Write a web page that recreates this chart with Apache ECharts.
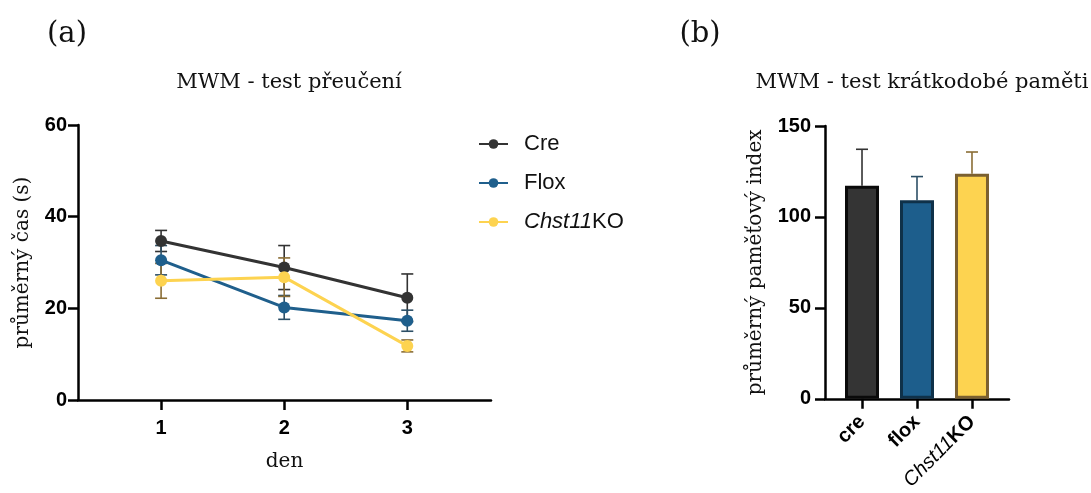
<!DOCTYPE html>
<html>
    <head>
        <meta charset="utf-8">
        <script src='https://cdn.jsdelivr.net/npm/echarts@6/dist/echarts.min.js'></script>
    </head>
    <body>
        <style>
            html, body{
                width: 100%;
                height: 100%;
                margin: 0;
                background: #fff;
            }
            #main{ width: 1091px; height: 493px; }
        </style>
        <div id='main'></div>
        <script>
            // (a) MWM - test preuceni
            var days = [1, 2, 3];
            var groupNames = ['Cre', 'Flox', 'Chst11KO'];
            var creMean = [34.7, 28.9, 22.3];
            var creErr = [2.3, 4.8, 5.2];
            var floxMean = [30.5, 20.2, 17.3];
            var floxErr = [3.2, 2.6, 2.3];
            var koMean = [26.0, 26.8, 11.8];
            var koErr = [3.8, 4.2, 1.3];

            // (b) MWM - test kratkodobe pameti
            var barNames = ['cre', 'flox', 'Chst11KO'];
            var barMean = [117.2, 109.2, 123.7];
            var barErr = [20.0, 13.0, 12.0];

            var lineColors = ['#333333', '#1f5f8c', '#fdd350'];
            var errColors = ['#333333', '#2c4f66', '#8a6d35'];
            var barFill = ['#343434', '#1d5e8c', '#fdd350'];
            var barBorder = ['#0a0a0a', '#0f3149', '#7b6030'];

            var SERIF = "'DejaVu Serif', serif";
            var SANS = "'Liberation Sans', Arial, sans-serif";

            function errRender(colorFn, upOnly){
                return function(params, api){
                    var x = api.value(0), m = api.value(1), e = api.value(2);
                    var top = api.coord([x, m + e]);
                    var bot = api.coord([x, upOnly ? m : m - e]);
                    var c = colorFn(params.dataIndex);
                    var st = { stroke: c, lineWidth: 1.6 };
                    var kids = [
                        { type: 'line', shape: { x1: top[0], y1: top[1], x2: bot[0], y2: bot[1] }, style: st },
                        { type: 'line', shape: { x1: top[0] - 6, y1: top[1], x2: top[0] + 6, y2: top[1] }, style: st }
                    ];
                    if (!upOnly) {
                        kids.push({ type: 'line', shape: { x1: bot[0] - 6, y1: bot[1], x2: bot[0] + 6, y2: bot[1] }, style: st });
                    }
                    return { type: 'group', children: kids };
                };
            }

            function zip3(a, b, c){
                var out = [];
                for (var i = 0; i < a.length; i++) out.push([a[i], b[i], c[i]]);
                return out;
            }

            var means = [creMean, floxMean, koMean];
            var errs = [creErr, floxErr, koErr];

            var series = [];
            for (var g = 0; g < 3; g++) {
                (function(g){
                    series.push({
                        type: 'custom',
                        xAxisIndex: 0, yAxisIndex: 0,
                        renderItem: errRender(function(){ return errColors[g]; }, false),
                        data: zip3(days, means[g], errs[g]),
                        z: 2, silent: true
                    });
                })(g);
            }
            for (var g = 0; g < 3; g++) {
                series.push({
                    name: groupNames[g],
                    type: 'line',
                    xAxisIndex: 0, yAxisIndex: 0,
                    data: days.map(function(d, i){ return [d, means[g][i]]; }),
                    symbol: 'circle',
                    symbolSize: 12,
                    lineStyle: { color: lineColors[g], width: 3 },
                    itemStyle: { color: lineColors[g] },
                    z: 3
                });
            }
            var barX = barNames.map(function(n, i){ return i + 1; });
            series.push({
                type: 'custom',
                xAxisIndex: 1, yAxisIndex: 1,
                renderItem: errRender(function(i){ return errColors[i]; }, true),
                data: zip3(barX, barMean, barErr),
                z: 1, silent: true
            });
            series.push({
                type: 'bar',
                xAxisIndex: 1, yAxisIndex: 1,
                barWidth: 34,
                data: barX.map(function(x, i){
                    return {
                        value: [x, barMean[i]],
                        itemStyle: { color: barFill[i], borderColor: barBorder[i], borderWidth: 3 }
                    };
                }),
                z: 2
            });

            var axisLineStyle = { color: '#000', width: 2.5 };
            var tickStyle = { color: '#000', width: 2.5 };
            var tickLabel = { color: '#000', fontFamily: SANS, fontWeight: 'bold', fontSize: 20 };
            var nameStyle = { fontFamily: SERIF, fontSize: 20, color: '#111' };

            var option = {
                animation: false,
                title: [
                    { text: '(a)', left: 62, top: 15, textAlign: 'center',
                      textStyle: { fontFamily: SERIF, fontWeight: 'normal', fontSize: 29, color: '#111' } },
                    { text: '(b)', left: 695, top: 15, textAlign: 'center',
                      textStyle: { fontFamily: SERIF, fontWeight: 'normal', fontSize: 29, color: '#111' } },
                    { text: 'MWM - test přeučení', left: 284, top: 67, textAlign: 'center',
                      textStyle: { fontFamily: SERIF, fontWeight: 'normal', fontSize: 21, color: '#111' } },
                    { text: 'MWM - test krátkodobé paměti', left: 917, top: 67, textAlign: 'center',
                      textStyle: { fontFamily: SERIF, fontWeight: 'normal', fontSize: 21, color: '#111' } }
                ],
                legend: {
                    data: groupNames,
                    orient: 'vertical',
                    left: 473,
                    top: 128,
                    itemWidth: 29,
                    itemHeight: 12,
                    itemGap: 17,
                    textStyle: {
                        fontFamily: SANS, fontSize: 22, color: '#111', padding: [0, 0, 0, 11],
                        rich: { i: { fontFamily: SANS, fontSize: 22, fontStyle: 'italic', color: '#111' } }
                    },
                    formatter: function(name){
                        return name === 'Chst11KO' ? '{i|Chst11}KO' : name;
                    }
                },
                grid: [
                    { left: 78, right: 600, top: 125, bottom: 93 },
                    { left: 825, right: 82, top: 126, bottom: 92 }
                ],
                xAxis: [
                    {
                        type: 'value', gridIndex: 0, min: 0.325, max: 3.68,
                        name: 'den', nameLocation: 'middle', nameGap: 52,
                        nameTextStyle: nameStyle,
                        axisLine: { lineStyle: axisLineStyle },
                        axisTick: { customValues: days, length: 10, lineStyle: tickStyle },
                        axisLabel: Object.assign({ customValues: days, margin: 18 }, tickLabel),
                        splitLine: { show: false }
                    },
                    {
                        type: 'value', gridIndex: 1, min: 0.327, max: 3.673,
                        axisLine: { lineStyle: axisLineStyle },
                        axisTick: { customValues: barX, length: 10, lineStyle: tickStyle },
                        axisLabel: Object.assign({
                            customValues: barX, margin: 20, rotate: 45,
                            formatter: function(v){
                                var n = barNames[Math.round(v) - 1];
                                return n === 'Chst11KO' ? '{i|Chst11}KO' : n;
                            },
                            rich: { i: { fontFamily: SANS, fontSize: 20, fontStyle: 'italic', fontWeight: 'normal', color: '#000' } }
                        }, tickLabel),
                        splitLine: { show: false }
                    }
                ],
                yAxis: [
                    {
                        type: 'value', gridIndex: 0, min: 0, max: 60, interval: 20,
                        name: 'průměrný čas (s)', nameLocation: 'middle', nameGap: 45,
                        nameTextStyle: nameStyle,
                        axisLine: { show: true, lineStyle: axisLineStyle },
                        axisTick: { show: true, length: 10, lineStyle: tickStyle },
                        axisLabel: Object.assign({ margin: 11 }, tickLabel),
                        splitLine: { show: false }
                    },
                    {
                        type: 'value', gridIndex: 1, min: 0, max: 150, interval: 50,
                        name: 'průměrný paměťový index', nameLocation: 'middle', nameGap: 59,
                        nameTextStyle: nameStyle,
                        axisLine: { show: true, lineStyle: axisLineStyle },
                        axisTick: { show: true, length: 10, lineStyle: tickStyle },
                        axisLabel: Object.assign({ margin: 14 }, tickLabel),
                        splitLine: { show: false }
                    }
                ],
                series: series
            };

            var chart = echarts.init(document.getElementById('main'));
            chart.setOption(option);
            window.onresize = chart.resize;
        </script>
    </body>
</html>
